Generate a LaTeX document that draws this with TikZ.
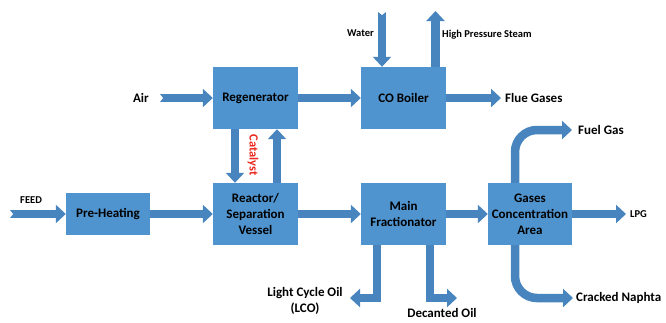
\documentclass[tikz,border=0pt]{standalone}
\usepackage{fontspec}
\setmainfont{Carlito}
\usetikzlibrary{arrows.meta}
\definecolor{boxblue}{RGB}{79,148,206}
\definecolor{arrblue}{RGB}{72,132,190}
\definecolor{catred}{RGB}{235,40,30}
\begin{document}
\begin{tikzpicture}[x=1pt,y=-1pt,
  unit/.style={fill=boxblue,draw=none,minimum width=85pt,minimum height=62pt,align=center,font=\bfseries\fontsize{13}{16}\selectfont,inner sep=1pt},
  flow/.style={draw=arrblue,line width=8.5pt,miter limit=10,-{Triangle[length=10pt,width=18pt]}},
  lbl/.style={font=\bfseries\fontsize{13}{16}\selectfont,inner sep=0pt},
  slbl/.style={font=\bfseries\fontsize{10.5}{12}\selectfont,inner sep=0pt},
  notch/.style={fill=white,draw=none}]
\useasboundingbox (0,0) rectangle (666,322);
% units
\node[unit] (reg) at (255.5,98) {Regenerator};
\node[unit] (cob) at (403.5,98) {CO Boiler};
\node[unit,minimum width=84pt,minimum height=42pt] (pre) at (108,214) {Pre-Heating};
\node[unit] (rea) at (255.5,214) {Reactor/\\Separation\\Vessel};
\node[unit] (mf) at (403.5,214) {Main\\Fractionator};
\node[unit,minimum width=84pt] (gca) at (530,214) {Gases\\Concentration\\Area};
% free ends
\coordinate (air) at (160,98);
\coordinate (flue) at (501,98);
\coordinate (water) at (382,12);
\coordinate (steam) at (435.5,11);
\coordinate (feed) at (10,214);
\coordinate (lpg) at (626,214);
\coordinate (fuel) at (572,130);
\coordinate (naph) at (573,298);
\coordinate (lco) at (350,298);
\coordinate (dec) at (457,298);
% flows
\draw[flow] (air) -- (reg.west);
\draw[flow] (reg.east) -- (cob.west);
\draw[flow] (cob.east) -- (flue);
\draw[flow] (water) -- (water |- cob.north);
\draw[flow] (steam |- cob.north) -- (steam);
\draw[flow] ([xshift=-20.5pt]reg.south) -- ([xshift=-20.5pt]rea.north);
\draw[flow] ([xshift=21.5pt]rea.north) -- ([xshift=21.5pt]reg.south);
\draw[flow] (feed) -- (pre.west);
\draw[flow] (pre.east) -- (rea.west);
\draw[flow] (rea.east) -- (mf.west);
\draw[flow] (mf.east) -- (gca.west);
\draw[flow] (gca.east) -- (lpg);
\draw[flow] ([xshift=-26.5pt]mf.south) |- (lco);
\draw[flow] ([xshift=26.5pt]mf.south) |- (dec);
\draw[flow,rounded corners=22pt] ([xshift=-15pt]gca.north) |- (fuel);
\draw[flow,rounded corners=22pt] ([xshift=-15pt]gca.south) |- (naph);
% tail notches
\fill[notch] (air) ++(-1,-5) -- ++(4,5) -- ++(-4,5) -- cycle;
\fill[notch] (feed) ++(-1,-5) -- ++(4,5) -- ++(-4,5) -- cycle;
\fill[notch] (water) ++(-5,-1) -- ++(5,4) -- ++(5,-4) -- cycle;
% labels
\node[lbl,anchor=east] (lair) at (149,98) {Air};
\node[lbl,anchor=west] (lflue) at (505,98) {Flue Gases};
\node[slbl,anchor=east] (lwater) at (374,33) {Water};
\node[slbl,anchor=west] (lsteam) at (442,35) {High Pressure Steam};
\node[slbl,anchor=west] (lfeed) at (20,200) {FEED};
\node[slbl,anchor=west] (llpg) at (630,214) {LPG};
\node[lbl,anchor=west] (lfuel) at (578,130) {Fuel Gas};
\node[lbl,anchor=west] (lnaph) at (576,298) {Cracked Naphta};
\node[lbl,align=center] (llco) at (305,301) {Light Cycle Oil\\(LCO)};
\node[lbl] (ldec) at (442,313) {Decanted Oil};
\node[font=\bfseries\fontsize{12.5}{14}\selectfont,text=catred,rotate=-90,inner sep=0pt] (lcat) at (253,155) {Catalyst};
\end{tikzpicture}
\end{document}
